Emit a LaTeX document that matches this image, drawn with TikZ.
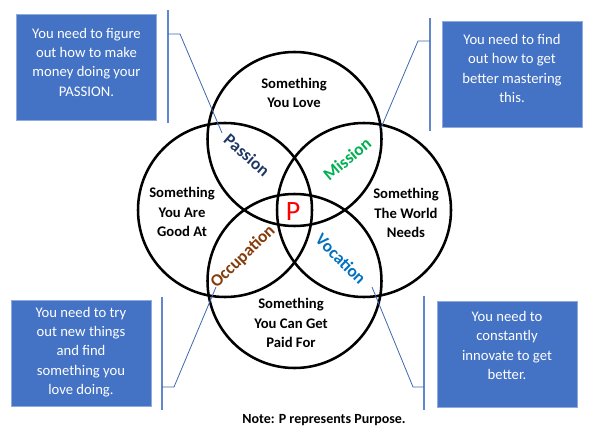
\documentclass[tikz,border=0pt]{standalone}
\usepackage{fontspec}
\setmainfont{Carlito}
\usepackage{xcolor}
\definecolor{boxblue}{HTML}{4472C4}
\definecolor{boxedge}{HTML}{8FAADC}
\definecolor{passioncol}{HTML}{1F3864}
\definecolor{missioncol}{HTML}{00B050}
\definecolor{occupcol}{HTML}{843C0C}
\definecolor{vocatcol}{HTML}{0070C0}

\tikzset{
  ring/.style={circle,draw=black,line width=1.9pt,minimum size=130.5pt,inner sep=0pt},
  infobox/.style={rectangle,fill=boxblue,draw=boxedge,line width=0.6pt,
    minimum width=105pt,minimum height=79.5pt},
  boxtext/.style={text=white,align=center,font=\fontsize{11}{14.5}\selectfont},
  ringtext/.style={align=center,font=\bfseries\fontsize{11}{14.8}\selectfont},
  zone/.style={font=\bfseries\fontsize{13}{15}\selectfont},
  bar/.style={draw=boxblue!85,line width=1.1pt},
  link/.style={draw=boxblue!90!black,line width=0.6pt}
}

\begin{document}
\begin{tikzpicture}[x=0.75pt,y=-0.75pt]
            \useasboundingbox (0,0) rectangle (602,438);

            % the four circles
            \node[ring] (love) at (294.5,139) {};
            \node[ring] (good) at (225,210) {};
            \node[ring] (world) at (364,210) {};
            \node[ring] (paid) at (294.5,281) {};

            % texts in the circles
            \node[ringtext] (lovetxt) at (294,93) {Something\\You Love};
            \node[ringtext] (goodtxt) at (182,212) {Something\\You Are\\Good At};
            \node[ringtext] (worldtxt) at (406,213) {Something\\The World\\Needs};
            \node[ringtext] (paidtxt) at (291,323) {Something\\You Can Get\\Paid For};

            % overlaps
            \node[zone,text=passioncol,rotate=-41] (passion) at (247,155) {Passion};
            \node[zone,text=missioncol,rotate=40] (mission) at (347,159) {Mission};
            \node[zone,text=occupcol,rotate=44] (occupation) at (243,257) {Occupation};
            \node[zone,text=vocatcol,rotate=-45] (vocation) at (341,259) {Vocation};
            \node[text=red,font=\fontsize{21}{24}\selectfont] (purpose) at (293,212) {P};

            % the notes
            \node[infobox] (tlbox) at (86.5,67) {};
            \node[boxtext] (tltxt) at (86.5,62) {You need to figure\\out how to make\\money doing your\\PASSION.};
            \node[infobox] (trbox) at (512,74.5) {};
            \node[boxtext] (trtxt) at (512,68.5) {You need to find\\out how to get\\better mastering\\this.};
            \node[infobox] (blbox) at (81,353.5) {};
            \node[boxtext] (bltxt) at (81,352) {You need to try\\out new things\\and find\\something you\\love doing.};
            \node[infobox] (brbox) at (507,354) {};
            \node[boxtext] (brtxt) at (507,345.5) {You need to\\constantly\\innovate to get\\better.};

            % brackets and pointers
            \coordinate (tltop) at (168,10);
            \coordinate (tlbot) at (168,123);
            \coordinate (tlfoot) at (168,34);
            \coordinate (tlknee) at (180,34);
            \coordinate (tltip) at (222,133);
            \draw[bar] (tltop) -- (tlbot);
            \draw[link] (tlfoot) -- (tlknee) -- (tltip);

            \coordinate (trtop) at (430,18);
            \coordinate (trbot) at (430,131);
            \coordinate (trfoot) at (430,41);
            \coordinate (trknee) at (418,41);
            \coordinate (trtip) at (381,128);
            \draw[bar] (trtop) -- (trbot);
            \draw[link] (trfoot) -- (trknee) -- (trtip);

            \coordinate (bltop) at (162,297);
            \coordinate (blbot) at (162,410);
            \coordinate (blfoot) at (162,387);
            \coordinate (blknee) at (174,387);
            \coordinate (bltip) at (216,287);
            \draw[bar] (bltop) -- (blbot);
            \draw[link] (blfoot) -- (blknee) -- (bltip);

            \coordinate (brtop) at (424,296);
            \coordinate (brbot) at (424,410);
            \coordinate (brfoot) at (424,387);
            \coordinate (brknee) at (413,387);
            \coordinate (brtip) at (372,287);
            \draw[bar] (brtop) -- (brbot);
            \draw[link] (brfoot) -- (brknee) -- (brtip);

            \node[font=\bfseries\fontsize{10.5}{12}\selectfont] (note) at (324,420) {Note: P represents Purpose.};
\end{tikzpicture}
\end{document}
